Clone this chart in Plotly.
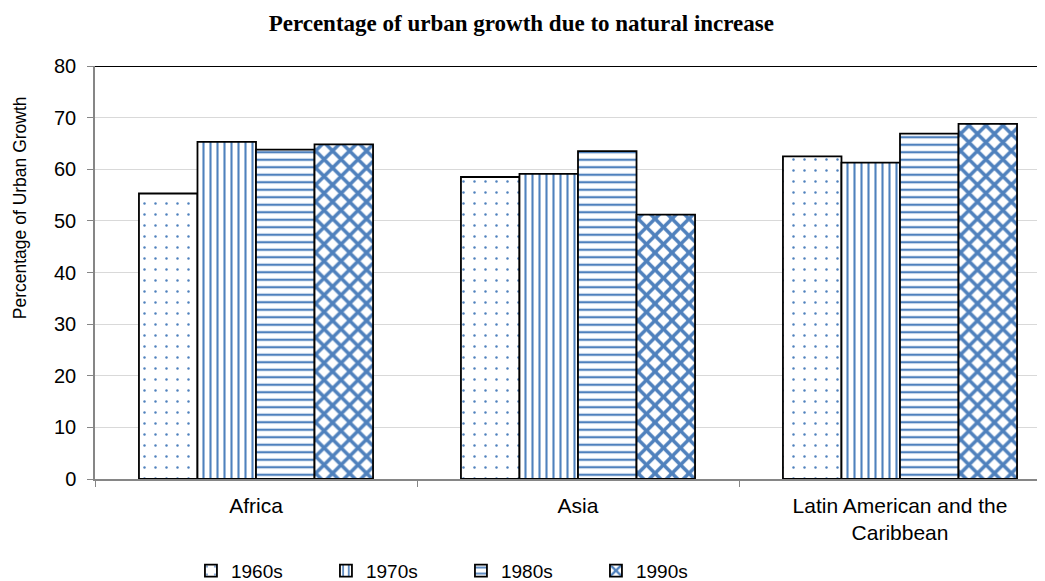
import plotly.graph_objects as go

categories = ["Africa", "Asia", "Latin American and the<br>Caribbean"]
series_names = ["1960s", "1970s", "1980s", "1990s"]
v1960s = [55.3, 58.5, 62.5]
v1970s = [65.3, 59.1, 61.3]
v1980s = [63.8, 63.5, 66.9]
v1990s = [64.8, 51.2, 68.8]
series_values = [v1960s, v1970s, v1980s, v1990s]
y_ticks = [0, 10, 20, 30, 40, 50, 60, 70, 80]
y_title = "Percentage of Urban Growth"

BLUE = "#4F81BD"
patterns = [
    dict(shape=".", fgcolor=BLUE, bgcolor="white", size=11, solidity=0.04, fillmode="replace"),
    dict(shape="|", fgcolor=BLUE, bgcolor="white", size=7, solidity=0.3, fillmode="replace"),
    dict(shape="-", fgcolor=BLUE, bgcolor="white", size=7.5, solidity=0.3, fillmode="replace"),
    dict(shape="x", fgcolor=BLUE, bgcolor="white", size=12, solidity=0.5, fillmode="replace"),
]

fig = go.Figure()
for name, vals, pat in zip(series_names, series_values, patterns):
    fig.add_trace(go.Bar(
        x=categories, y=vals, name=name,
        marker=dict(color="white", pattern=pat, line=dict(color="black", width=1.8)),
    ))

font_sans = "Liberation Sans, Arial, sans-serif"
W, H = 1037, 573
fig.update_layout(
    width=W, height=H,
    paper_bgcolor="white", plot_bgcolor="white",
    margin=dict(l=87, r=0, t=58, b=102, autoexpand=False),
    barmode="group", bargap=0.273, bargroupgap=0,
    font=dict(family=font_sans, size=19, color="black"),
    title=dict(text="<b>Percentage of urban growth due to natural increase</b>",
               font=dict(family="Liberation Serif, Times New Roman, serif", size=23, color="black"),
               x=0.495, xanchor="center", y=0.974, yanchor="middle"),
    legend=dict(orientation="h", x=0.101, xanchor="left", y=-0.222, yanchor="middle",
                entrywidth=90, entrywidthmode="pixels",
                font=dict(family=font_sans, size=19, color="black"),
                itemwidth=30, traceorder="normal"),
    showlegend=True,
)
fig.update_xaxes(
    type="category", range=[-0.5, -0.5 + 950 / 322],
    showline=True, linecolor="#868686", linewidth=1.5,
    ticks="outside", tickson="boundaries", ticklen=6, tickcolor="#868686",
    ticklabelstandoff=7,
    showgrid=False, tickfont=dict(size=21, family=font_sans), fixedrange=True,
)
fig.update_yaxes(
    range=[0, 80], tickvals=y_ticks,
    showline=True, linecolor="#868686", linewidth=1.5,
    ticks="outside", ticklen=6, tickcolor="#868686",
    ticklabelstandoff=7,
    showgrid=True, gridcolor="#D9D9D9", gridwidth=1.2,
    zeroline=False,
    tickfont=dict(size=20, family=font_sans),
)
fig.add_annotation(text=y_title, textangle=-90, showarrow=False,
                   xref="paper", yref="paper", x=-0.079, y=0.658,
                   xanchor="center", yanchor="middle",
                   font=dict(size=17.5, family=font_sans, color="black"))
fig.add_shape(type="line", xref="paper", yref="y", x0=0, x1=1, y0=80, y1=80,
              line=dict(color="black", width=2), layer="above")

fig.write_html("out.html")
